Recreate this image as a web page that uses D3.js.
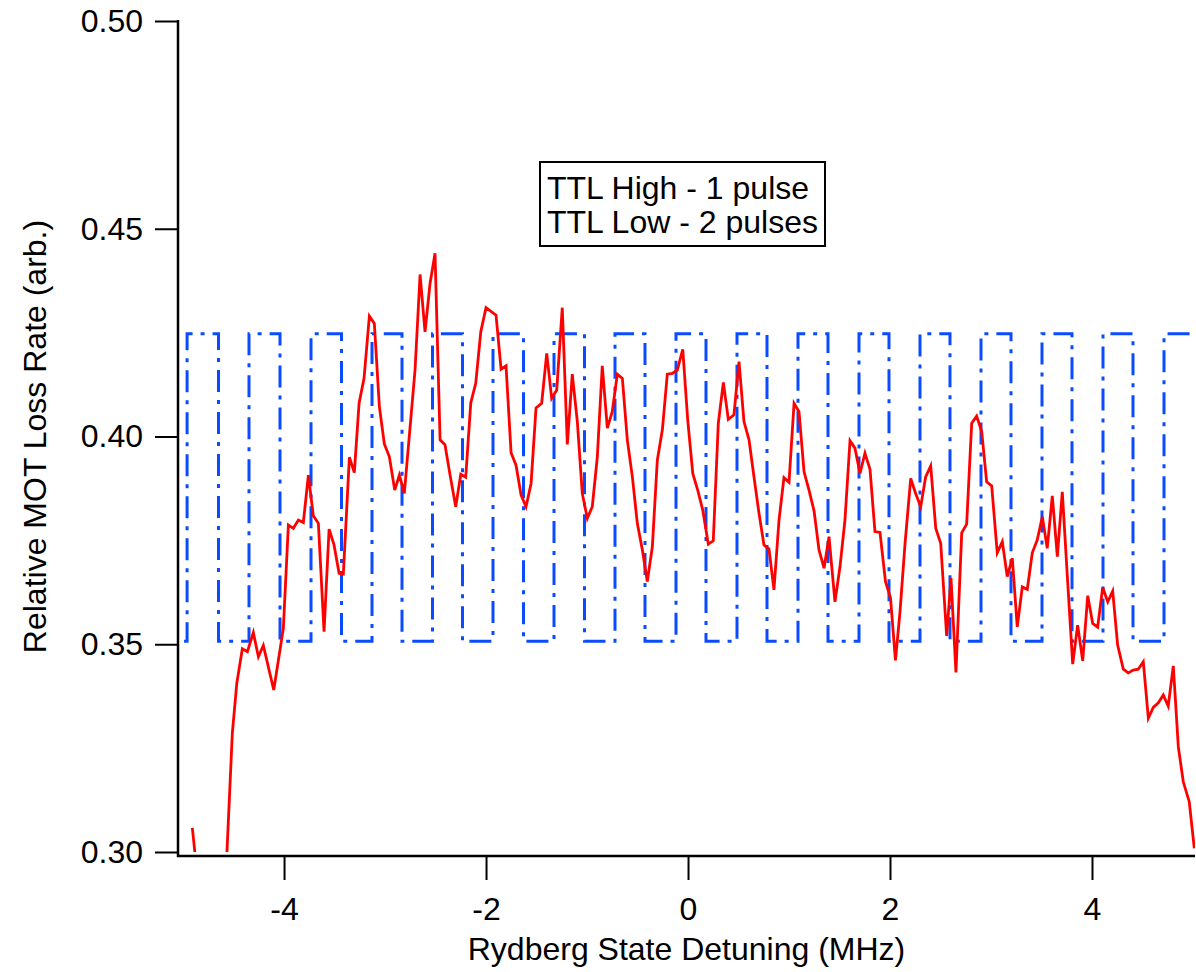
<!DOCTYPE html>
<html>
<head>
<meta charset="utf-8">
<script src="https://cdn.jsdelivr.net/npm/d3@7"></script>
<style>
  html, body { margin: 0; padding: 0; background: #fff; }
  svg { display: block; font-family: "Liberation Sans", Arial, sans-serif; }
</style>
</head>
<body>
<svg id="chart"></svg>
<script>
// Red trace: detuning (MHz) and relative MOT loss rate
const detuning = [
  -4.908, -4.86, -4.76, -4.66, -4.61, -4.512, -4.468, -4.413, -4.363, -4.304,
  -4.254, -4.205, -4.102, -4.007, -3.957, -3.908, -3.858, -3.809, -3.759, -3.710,
  -3.660, -3.604, -3.554, -3.505, -3.455, -3.413, -3.353, -3.304, -3.257, -3.208,
  -3.155, -3.106, -3.056, -3.007, -2.957, -2.904, -2.858, -2.809, -2.703, -2.653,
  -2.604, -2.554, -2.505, -2.455, -2.406, -2.356, -2.300, -2.250, -2.201, -2.151,
  -2.102, -2.052, -2.000, -1.901, -1.851, -1.802, -1.752, -1.703, -1.653, -1.604,
  -1.554, -1.505, -1.449, -1.399, -1.350, -1.300, -1.245, -1.195, -1.146, -1.096,
  -1.047, -0.997, -0.948, -0.898, -0.849, -0.799, -0.750, -0.700, -0.650, -0.601,
  -0.551, -0.502, -0.452, -0.403, -0.353, -0.304, -0.254, -0.205, -0.155, -0.106,
  -0.052, -0.003, 0.047, 0.096, 0.146, 0.201, 0.250, 0.300, 0.350, 0.399,
  0.455, 0.505, 0.554, 0.604, 0.653, 0.703, 0.752, 0.802, 0.851, 0.901,
  0.950, 1.000, 1.050, 1.099, 1.149, 1.198, 1.248, 1.297, 1.347, 1.396,
  1.455, 1.505, 1.554, 1.604, 1.653, 1.703, 1.752, 1.802, 1.851, 1.901,
  1.955, 2.005, 2.054, 2.099, 2.149, 2.205, 2.254, 2.304, 2.353, 2.403,
  2.453, 2.502, 2.561, 2.604, 2.653, 2.710, 2.759, 2.809, 2.858, 2.908,
  2.957, 3.007, 3.062, 3.112, 3.161, 3.211, 3.260, 3.310, 3.359, 3.409,
  3.458, 3.508, 3.557, 3.607, 3.657, 3.706, 3.756, 3.809, 3.858, 3.908,
  3.958, 4.007, 4.056, 4.106, 4.156, 4.205, 4.254, 4.310, 4.359, 4.409,
  4.458, 4.508, 4.558, 4.607, 4.657, 4.706, 4.755, 4.805, 4.855, 4.904,
  4.963, 5.013
];
const lossRate = [
  0.3058, 0.2945, 0.285, 0.280, 0.276, 0.3286, 0.3406, 0.3489, 0.3482, 0.3528,
  0.3470, 0.3497, 0.3390, 0.3538, 0.3787, 0.3779, 0.3799, 0.3793, 0.3907, 0.3809,
  0.3791, 0.3530, 0.3777, 0.3739, 0.3671, 0.3669, 0.3950, 0.3913, 0.4080, 0.4140,
  0.4290, 0.4272, 0.4072, 0.3982, 0.3951, 0.3871, 0.3907, 0.3863, 0.4160, 0.4390,
  0.4252, 0.4369, 0.4441, 0.3992, 0.3980, 0.3907, 0.3831, 0.3909, 0.3902, 0.4081,
  0.4128, 0.4252, 0.4310, 0.4292, 0.4162, 0.4170, 0.3961, 0.3931, 0.3859, 0.3831,
  0.3887, 0.4069, 0.4080, 0.4200, 0.4092, 0.4112, 0.4310, 0.3981, 0.4150, 0.4036,
  0.3863, 0.3803, 0.3831, 0.3951, 0.4170, 0.4020, 0.4060, 0.4150, 0.4140, 0.3992,
  0.3903, 0.3791, 0.3727, 0.3651, 0.3735, 0.3943, 0.4016, 0.4150, 0.4152, 0.4160,
  0.4210, 0.4040, 0.3911, 0.3871, 0.3823, 0.3741, 0.3749, 0.4032, 0.4130, 0.4041,
  0.4052, 0.4180, 0.4036, 0.3992, 0.3903, 0.3815, 0.3739, 0.3729, 0.3631, 0.3799,
  0.3901, 0.3890, 0.4080, 0.4060, 0.3915, 0.3871, 0.3821, 0.3727, 0.3683, 0.3759,
  0.3602, 0.3687, 0.3799, 0.3990, 0.3972, 0.3911, 0.3960, 0.3921, 0.3771, 0.3769,
  0.3651, 0.3611, 0.3461, 0.3578, 0.3743, 0.3899, 0.3863, 0.3831, 0.3903, 0.3929,
  0.3779, 0.3743, 0.3520, 0.3659, 0.3432, 0.3768, 0.3789, 0.4032, 0.4049, 0.4012,
  0.3891, 0.3881, 0.3720, 0.3747, 0.3663, 0.3707, 0.3542, 0.3638, 0.3632, 0.3720,
  0.3751, 0.3807, 0.3731, 0.3857, 0.3711, 0.3867, 0.3663, 0.3452, 0.3546, 0.3460,
  0.3617, 0.3550, 0.3541, 0.3637, 0.3602, 0.3628, 0.3498, 0.3440, 0.3431, 0.3438,
  0.3440, 0.3458, 0.3322, 0.3348, 0.3359, 0.3378, 0.3351, 0.3448, 0.3253, 0.3169,
  0.3121, 0.3009
];

// Blue trace: TTL square wave, switching detunings (MHz), starts low
const ttlStart = -4.99;
const ttlEnd = 5.02;
const ttlEdges = [
  -4.960, -4.649, -4.347, -4.040, -3.733, -3.431, -3.129, -2.832, -2.530, -2.233,
  -1.931, -1.629, -1.327, -1.025, -0.723, -0.426, -0.119, 0.178, 0.485, 0.782,
  1.089, 1.386, 1.693, 1.990, 2.297, 2.594, 2.901, 3.198, 3.505, 3.802,
  4.109, 4.406, 4.713
];
const ttlLow = 0.3507;
const ttlHigh = 0.4247;

const xTicks = [-4, -2, 0, 2, 4];
const yTicks = [0.30, 0.35, 0.40, 0.45, 0.50];
const legendLines = ['TTL High - 1 pulse', 'TTL Low - 2 pulses'];

//Set up svg
const width = 1196;
const height = 972;
const plot = { left: 178, right: 1195, top: 21, bottom: 852 };

const svg = d3.select('#chart').attr('width', width).attr('height', height);

const xScale = d3.scaleLinear().domain([-5.05, 5.02]).range([plot.left, plot.right]);
const yScale = d3.scaleLinear().domain([0.30, 0.50]).range([plot.bottom, plot.top]);

// Clip the traces to the plot area
svg.append('defs').append('clipPath').attr('id', 'plotClip')
  .append('rect')
  .attr('x', plot.left)
  .attr('y', plot.top)
  .attr('width', plot.right - plot.left)
  .attr('height', plot.bottom - plot.top);

//Build step data for the TTL trace
const ttlData = [[ttlStart, ttlLow]];
ttlEdges.forEach((e, i) => ttlData.push([e, i % 2 === 0 ? ttlHigh : ttlLow]));
ttlData.push([ttlEnd, ttlData[ttlData.length - 1][1]]);

const ttlLine = d3.line()
  .x((d) => xScale(d[0]))
  .y((d) => yScale(d[1]))
  .curve(d3.curveStepAfter);

svg.append('path')
  .datum(ttlData)
  .attr('clip-path', 'url(#plotClip)')
  .attr('fill', 'none')
  .attr('stroke', '#0a4bff')
  .attr('stroke-width', 3)
  .attr('stroke-dasharray', '22,8,4,8')
  .attr('d', ttlLine);

//Red loss-rate trace
const lossData = detuning.map((x, i) => ({ x, y: lossRate[i] }));
const lossLine = d3.line()
  .x((d) => xScale(d.x))
  .y((d) => yScale(d.y));

svg.append('path')
  .datum(lossData)
  .attr('clip-path', 'url(#plotClip)')
  .attr('fill', 'none')
  .attr('stroke', '#ff0000')
  .attr('stroke-width', 2.8)
  .attr('d', lossLine);

//Axes
const xAxis = d3.axisBottom(xScale)
  .tickValues(xTicks)
  .tickSize(24)
  .tickPadding(17)
  .tickSizeOuter(0)
  .tickFormat((d) => (d < 0 ? '-' + Math.abs(d) : String(d)));

const yAxis = d3.axisLeft(yScale)
  .tickValues(yTicks)
  .tickSize(23)
  .tickPadding(12)
  .tickSizeOuter(0)
  .tickFormat(d3.format('.2f'));

const gx = svg.append('g')
  .attr('transform', `translate(0, ${plot.bottom + 4})`)
  .call(xAxis);

const gy = svg.append('g')
  .attr('transform', `translate(${plot.left}, 0)`)
  .call(yAxis);

// y axis line runs down to the x axis
gy.select('.domain').attr('d', `M0,${plot.top - 1}V${plot.bottom + 5}`);
gx.select('.domain').attr('d', `M${plot.left - 1},0H${plot.right}`);

[gx, gy].forEach((g) => {
  g.select('.domain').attr('stroke', '#000').attr('stroke-width', 2.5);
  g.selectAll('.tick line').attr('stroke', '#000').attr('stroke-width', 2);
  g.selectAll('.tick text')
    .attr('fill', '#000')
    .style('font-size', '32px')
    .style('font-family', '"Liberation Sans", Arial, sans-serif');
});

//Axis titles
svg.append('text')
  .attr('x', (plot.left + plot.right) / 2)
  .attr('y', 960)
  .attr('text-anchor', 'middle')
  .style('font-size', '32px')
  .text('Rydberg State Detuning (MHz)');

svg.append('text')
  .attr('transform', `translate(46, ${(plot.top + plot.bottom) / 2}) rotate(-90)`)
  .attr('text-anchor', 'middle')
  .style('font-size', '32px')
  .text('Relative MOT Loss Rate (arb.)');

//Legend box
const legend = svg.append('g').attr('transform', 'translate(540, 162)');
legend.append('rect')
  .attr('width', 285)
  .attr('height', 84)
  .attr('fill', '#fff')
  .attr('stroke', '#000')
  .attr('stroke-width', 2);

legend.selectAll('text')
  .data(legendLines)
  .join('text')
  .attr('x', 7)
  .attr('y', (d, i) => 37 + i * 34)
  .style('font-size', '32px')
  .text((d) => d);
</script>
</body>
</html>
